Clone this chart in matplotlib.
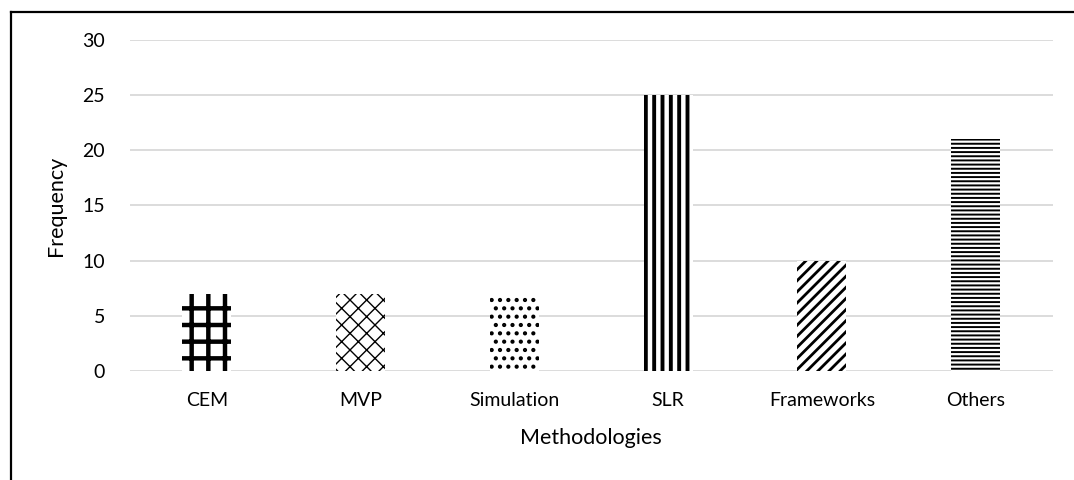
import numpy as np
import matplotlib
matplotlib.use('Agg')
import matplotlib.pyplot as plt
from matplotlib.lines import Line2D

# data
categories = ['CEM', 'MVP', 'Simulation', 'SLR', 'Frameworks', 'Others']
freq = [7, 7, 7, 25, 10, 21]
hatches = ['+', 'xx', '..', '||', '///', '----']
hatch_lw = [3.2, 1.0, 1.8, 2.8, 2.0, 1.4]

plt.rcParams['font.family'] = ['Lato', 'DejaVu Sans']

fig = plt.figure(figsize=(10.74, 4.8), dpi=100)
ax = fig.add_axes([0.121, 0.227, 0.859, 0.69])

x = np.arange(len(categories))
for i in range(len(categories)):
    plt.rcParams['hatch.linewidth'] = hatch_lw[i]
    bars = ax.bar(x[i], freq[i], width=0.32, color='white', edgecolor='black',
                  linewidth=0, hatch=hatches[i], zorder=3)
    for b in bars:
        if hasattr(b, 'set_hatch_linewidth'):
            b.set_hatch_linewidth(hatch_lw[i])

ax.set_xlim(-0.5, len(categories) - 0.5)
ax.set_ylim(0, 30)
ax.set_yticks(range(0, 31, 5))
ax.set_xticks(x)
ax.set_xticklabels(categories)
ax.grid(axis='y', color='#d9d9d9', linewidth=1.3, zorder=0)
for s in ax.spines.values():
    s.set_visible(False)
ax.tick_params(length=0, labelsize=14, colors='black')
ax.tick_params(axis='y', pad=18)
ax.tick_params(axis='x', pad=15)
ax.set_xlabel('Methodologies', fontsize=15.5, labelpad=14)
ax.set_ylabel('Frequency', fontsize=15.5, labelpad=12)

# outer frame
fig.add_artist(Line2D([10.5 / 1074, 10.5 / 1074], [0, 1 - 11.5 / 480], color='black', lw=1.6))
fig.add_artist(Line2D([10.5 / 1074, 1], [1 - 11.5 / 480, 1 - 11.5 / 480], color='black', lw=1.6))

fig.savefig('out.png', dpi=100)
